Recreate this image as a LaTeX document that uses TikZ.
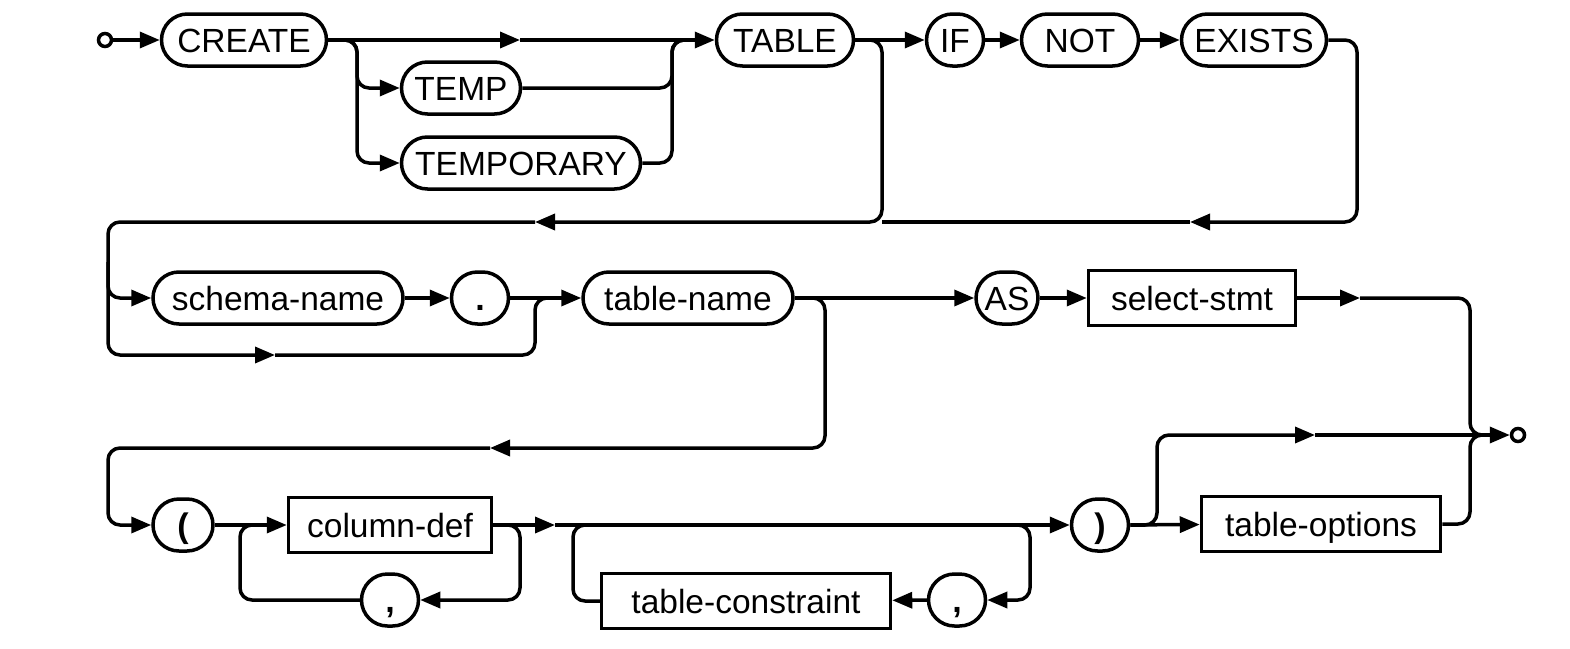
\documentclass[tikz,border=0pt]{standalone}
\usepackage{fontspec}
\setmainfont{Liberation Sans}
\usetikzlibrary{arrows.meta}
\tikzset{
  wire/.style={line width=3.5pt,line join=round},
  flow/.style={wire,-{Triangle[length=20pt,width=16pt]}},
  term/.style={draw,line width=3.5pt,rectangle,rounded corners=26pt,minimum height=52pt,inner sep=0pt,text height=24pt,text depth=0pt},
  nterm/.style={draw,line width=3.5pt,rectangle,minimum height=55pt,inner sep=0pt,text height=24pt,text depth=0pt},
  punct/.style={term,font=\fontsize{34}{36}\selectfont\bfseries},
  terminus/.style={circle,draw,line width=3.5pt,fill=white,minimum size=13pt,inner sep=0pt},
}
\begin{document}
\begin{tikzpicture}[x=1pt,y=-1pt,font=\fontsize{33.5}{36}\selectfont]
  \useasboundingbox (0,0) rectangle (1570,648);
  % first row
  \node[terminus] (start) at (105,40) {};
  \node[term,minimum width=165] (create) at (244,40) {CREATE};
  \node[term,minimum width=119] (temp) at (461,88) {TEMP};
  \node[term,minimum width=239] (temporary) at (521,163) {TEMPORARY};
  \node[term,minimum width=137] (table) at (785,40) {TABLE};
  \node[term,minimum width=57] (if) at (955,40) {IF};
  \node[term,minimum width=117] (not) at (1080,40) {NOT};
  \node[term,minimum width=145] (exists) at (1254,40) {EXISTS};
  % second row
  \node[term,minimum width=250] (schema) at (278,298) {schema-name};
  \node[punct,minimum width=57] (period) at (480,298) {.};
  \node[term,minimum width=210] (tname) at (688,298) {table-name};
  \node[term,minimum width=62] (as) at (1007,298) {AS};
  \node[nterm,minimum width=207] (select) at (1192,298) {select-stmt};
  % third row
  \node[punct,minimum width=60] (lparen) at (183,525) {(};
  \node[nterm,minimum width=203] (coldef) at (390,525) {column-def};
  \node[punct,minimum width=57] (comma1) at (390,600) {,};
  \node[nterm,minimum width=289] (tcons) at (746,601) {table-constraint};
  \node[punct,minimum width=57] (comma2) at (957,600) {,};
  \node[punct,minimum width=57] (rparen) at (1100,525) {)};
  \node[nterm,minimum width=239] (topts) at (1321,524) {table-options};
  \node[terminus] (end) at (1518,435) {};
  % junctions
  \coordinate (s1) at (357,40);
  \coordinate (c1) at (520,40);
  \coordinate (j1) at (672,40);
  \coordinate (k1) at (692,40);
  \coordinate (r1) at (882,40);
  \coordinate (e1) at (1357,40);
  \coordinate (b1) at (535,222);
  \coordinate (b2) at (1190,222);
  \coordinate (l1) at (108,222);
  \coordinate (l2) at (108,262);
  \coordinate (b3) at (275,355);
  \coordinate (p1) at (535,298);
  \coordinate (q1) at (557,298);
  \coordinate (r3) at (825,298);
  \coordinate (c2) at (1360,298);
  \coordinate (z1) at (1470,435);
  \coordinate (z2) at (1490,435);
  \coordinate (b4) at (490,448);
  \coordinate (l3) at (108,448);
  \coordinate (v1) at (520,525);
  \coordinate (v2) at (240,525);
  \coordinate (v3) at (262,525);
  \coordinate (c3) at (555,525);
  \coordinate (v4) at (1030,525);
  \coordinate (v5) at (573,525);
  \coordinate (v6) at (595,525);
  \coordinate (r4) at (1157,525);
  \coordinate (c4) at (1315,435);
  % first row lines
  \draw[flow] (start) -- (create);
  \draw[flow] (create) -- (c1);
  \draw[flow] (c1) -- (table);
  \draw[flow,rounded corners=12] (create.east) -- (s1) |- (temp);
  \draw[flow,rounded corners=12] (create.east) -- (s1) |- (temporary);
  \draw[wire,rounded corners=12] (temp) -| (j1) -- (k1);
  \draw[wire,rounded corners=12] (temporary) -| (j1) -- (k1);
  \draw[flow] (table) -- (if);
  \draw[flow] (if) -- (not);
  \draw[flow] (not) -- (exists);
  \draw[flow,rounded corners=12] (table.east) -- (r1) |- (b1);
  \draw[flow,rounded corners=12] (exists.east) -- (e1) |- (b2);
  \draw[wire] (b2) -- (b2 -| r1);
  % second row lines
  \draw[flow,rounded corners=12] (b1) -- (l1) |- (schema);
  \draw[flow,rounded corners=12] (l2) |- (b3);
  \draw[wire,rounded corners=12] (b3) -| (p1) -- (q1);
  \draw[flow] (schema) -- (period);
  \draw[flow] (period) -- (tname);
  \draw[flow] (tname) -- (as);
  \draw[flow] (as) -- (select);
  \draw[flow] (select) -- (c2);
  \draw[wire,rounded corners=12] (c2) -| (z1) -- (z2);
  \draw[flow,rounded corners=12] (tname.east) -- (r3) |- (b4);
  % third row lines
  \draw[flow,rounded corners=12] (b4) -- (l3) |- (lparen);
  \draw[flow] (lparen) -- (coldef);
  \draw[flow,rounded corners=12] (coldef.east) -- (v1) |- (comma1);
  \draw[wire,rounded corners=12] (comma1) -| (v2) -- (v3);
  \draw[flow] (coldef) -- (c3);
  \draw[flow] (c3) -- (rparen);
  \draw[flow,rounded corners=12] (c3) -- (v4) |- (comma2);
  \draw[flow] (comma2) -- (tcons);
  \draw[wire,rounded corners=12] (tcons) -| (v5) -- (v6);
  \draw[flow] (rparen) -- (topts);
  \draw[flow,rounded corners=12] (rparen.east) -- (r4) |- (c4);
  \draw[flow] (c4) -- (end);
  \draw[wire,rounded corners=12] (topts) -| (z1) -- (z2);
\end{tikzpicture}
\end{document}
